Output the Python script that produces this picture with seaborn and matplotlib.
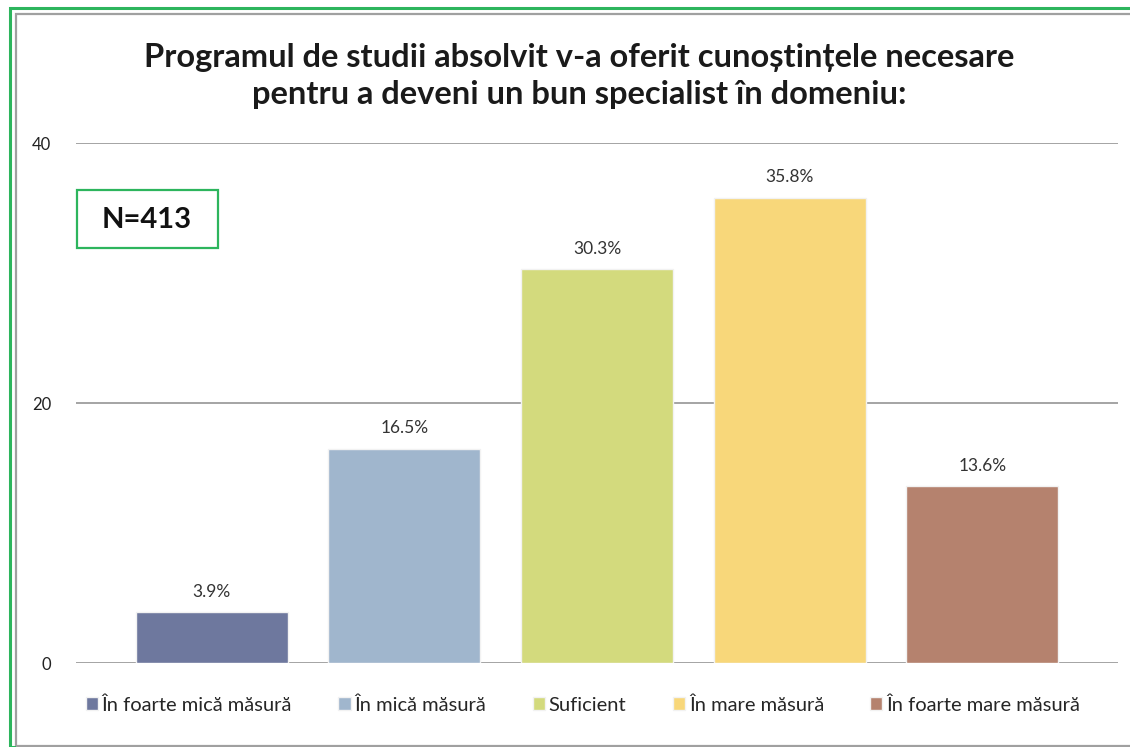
import matplotlib
matplotlib.use("Agg")
import matplotlib.pyplot as plt
import seaborn as sns
import pandas as pd
from matplotlib.patches import Rectangle

# chart values
categories = ["În foarte mică măsură", "În mică măsură", "Suficient",
              "În mare măsură", "În foarte mare măsură"]
values = [3.9, 16.5, 30.3, 35.8, 13.6]
colors = ["#6E789E", "#A0B6CD", "#D3DA7D", "#F8D77A", "#B5826E"]
y_ticks = [0, 20, 40]
title = "Programul de studii absolvit v-a oferit cunoștințele necesare\npentru a deveni un bun specialist în domeniu:"
n_label = "N=413"

sns.set_theme(style="white")
plt.rcParams['font.family'] = ['Lato', 'DejaVu Sans']

df = pd.DataFrame({"cat": categories, "val": values})

W, H = 1130, 747
fig = plt.figure(figsize=(W / 100, H / 100), dpi=100)

# outer frames (green + gray)
fig.patches.append(Rectangle((10 / W, 0), 2, 1 - 8 / H, transform=fig.transFigure,
                             fill=False, edgecolor="#2DB55D", linewidth=2.2))
fig.patches.append(Rectangle((15.5 / W, 1.5 / H), 2, 1 - 15 / H, transform=fig.transFigure,
                             fill=False, edgecolor="#A0A0A0", linewidth=1.6))

ax = fig.add_axes([76 / W, 1 - 663 / H, (1118 - 76) / W, (663 - 143) / H])

sns.barplot(data=df, x="cat", y="val", hue="cat", palette=colors, width=0.79,
            saturation=1, legend=True, ax=ax, edgecolor="#F2F2F2", linewidth=1.0)

for cont in ax.containers:
    ax.bar_label(cont, fmt="%.1f%%", padding=9, fontsize=12.5, color="#333333")

ax.set_xlim(-0.705, 4.705)
ax.set_ylim(0, 40)
ax.set_yticks(y_ticks)
ax.set_yticklabels([str(t) for t in y_ticks], fontsize=12, color="#222222")
ax.tick_params(axis="y", pad=18, length=0)
ax.set_xticks([])
ax.set_xlabel("")
ax.set_ylabel("")
for s in ax.spines.values():
    s.set_visible(False)
ax.yaxis.grid(True, color="#8C8C8C", linewidth=1.1)
ax.set_axisbelow(True)

# legend below the plot
handles, labels = ax.get_legend_handles_labels()
ax.get_legend().remove()
fig.legend(handles, labels, loc="center", bbox_to_anchor=(583 / W, 1 - 705 / H),
           ncol=5, frameon=False, fontsize=14.5, handlelength=0.6, handleheight=0.6,
           handletextpad=0.2, columnspacing=2.3)

fig.text(579 / W, 1 - 76 / H, title, ha="center", va="center", fontsize=23.5,
         fontweight="bold", color="#1a1a1a", linespacing=1.35)

# N box
fig.text(147 / W, 1 - 220 / H, n_label, ha="center", va="center", fontsize=21,
         fontweight="bold", color="#111111")
fig.patches.append(Rectangle((77 / W, 1 - 248 / H), 141 / W, 58 / H,
                             transform=fig.transFigure, fill=False,
                             edgecolor="#2DB55D", linewidth=1.6))

fig.savefig("out.png", dpi=100)
